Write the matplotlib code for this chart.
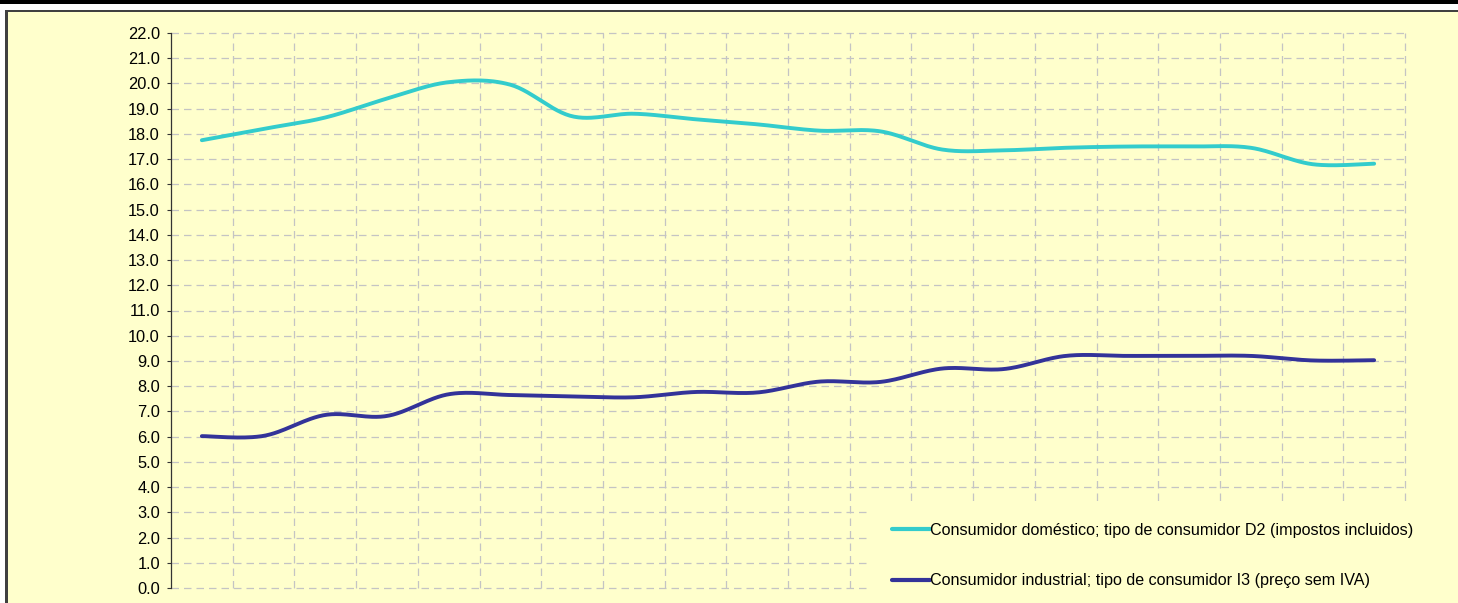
import numpy as np
import matplotlib
matplotlib.use("Agg")
from matplotlib import pyplot as plt
from matplotlib.patches import Rectangle

plt.rcParams['font.family'] = ['Liberation Sans', 'DejaVu Sans']

# twenty periods, no labels visible in the picture
periods = np.arange(20)
domestico = [17.75, 18.2, 18.65, 19.4, 20.05, 19.95, 18.7, 18.8, 18.58, 18.38,
             18.13, 18.1, 17.38, 17.35, 17.45, 17.5, 17.5, 17.45, 16.8, 16.82]
industrial = [6.02, 6.03, 6.86, 6.82, 7.68, 7.65, 7.6, 7.56, 7.77, 7.75,
              8.18, 8.17, 8.7, 8.68, 9.2, 9.2, 9.2, 9.2, 9.02, 9.03]
labels = ["Consumidor doméstico; tipo de consumidor D2 (impostos incluidos)",
          "Consumidor industrial; tipo de consumidor I3 (preço sem IVA)"]
colors = ["#33CCCC", "#333399"]


def smooth(x, y, n=30):
    """Excel-like smoothed line (Catmull-Rom as cubic Bezier)"""
    x = np.asarray(x, float)
    y = np.asarray(y, float)
    px = np.concatenate([[x[0]], x, [x[-1]]])
    py = np.concatenate([[y[0]], y, [y[-1]]])
    t = np.linspace(0, 1, n)[:, None]
    xs, ys = [], []
    for i in range(1, len(px) - 2):
        p0 = np.array([px[i], py[i]])
        p3 = np.array([px[i + 1], py[i + 1]])
        c1 = p0 + (np.array([px[i + 1], py[i + 1]]) - np.array([px[i - 1], py[i - 1]])) / 6
        c2 = p3 - (np.array([px[i + 2], py[i + 2]]) - np.array([px[i], py[i]])) / 6
        b = ((1 - t) ** 3) * p0 + 3 * ((1 - t) ** 2) * t * c1 + 3 * (1 - t) * t ** 2 * c2 + t ** 3 * p3
        xs.append(b[:, 0])
        ys.append(b[:, 1])
    return np.concatenate(xs), np.concatenate(ys)


fig = plt.figure(figsize=(14.58, 6.03), dpi=100)
fig.patch.set_facecolor('white')

# outer frame: black bar on top, yellow panel with dark edges
W, H = 1458, 603
frame = [((0, 1 - 4 / H), 1, 4 / H, 'black'),
         ((5 / W, 0), 1, 1 - 10 / H, '#FFFFCC'),
         ((5 / W, 1 - 12 / H), 1, 2 / H, '#404040'),
         ((5 / W, 0), 2.5 / W, 1 - 10 / H, '#404040')]
for xy, w, h, c in frame:
    fig.patches.append(Rectangle(xy, w, h, transform=fig.transFigure,
                                 facecolor=c, edgecolor='none', zorder=-5))

ax = fig.add_axes([171 / W, 1 - 588 / H, (1405 - 171) / W, (588 - 33) / H])
ax.set_facecolor('none')
ax.set_zorder(2)

for y, c, lab in zip([domestico, industrial], colors, labels):
    sx, sy = smooth(periods, y)
    ax.plot(sx, sy, color=c, lw=2.8, label=lab, solid_capstyle='round')

ax.set_xlim(-0.5, 19.5)
ax.set_ylim(0, 22)
ax.set_yticks(np.arange(0, 23, 1))
ax.set_yticklabels([f"{v:.1f}" for v in np.arange(0, 23, 1)])
ax.set_xticks(np.arange(0.5, 20, 1))
ax.set_xticklabels([])
ax.tick_params(axis='x', length=0)
ax.tick_params(axis='y', length=3, width=0.8, color='#333333', pad=5, labelsize=11.8, labelcolor='black')
ax.grid(True, color='#C4C4C4', linestyle=(0, (6, 4)), linewidth=0.9)
ax.set_axisbelow(True)
for side in ['top', 'right', 'bottom']:
    ax.spines[side].set_visible(False)
ax.spines['left'].set_color('#333333')
ax.spines['left'].set_linewidth(0.9)
for gl in ax.get_xgridlines() + ax.get_ygridlines():
    gl.set_clip_on(False)

leg = ax.legend(loc='upper left', bbox_to_anchor=(870 / W, 1 - 501 / H), bbox_transform=fig.transFigure,
                frameon=True, facecolor='#FFFFCC', edgecolor='none', framealpha=1, fancybox=False,
                fontsize=11.6, handlelength=2.4, handletextpad=0.0, labelspacing=2.2, borderpad=1.35,
                borderaxespad=0)
for line in leg.get_lines():
    line.set_linewidth(3.0)

fig.savefig('out.png', dpi=100, facecolor=fig.get_facecolor())
